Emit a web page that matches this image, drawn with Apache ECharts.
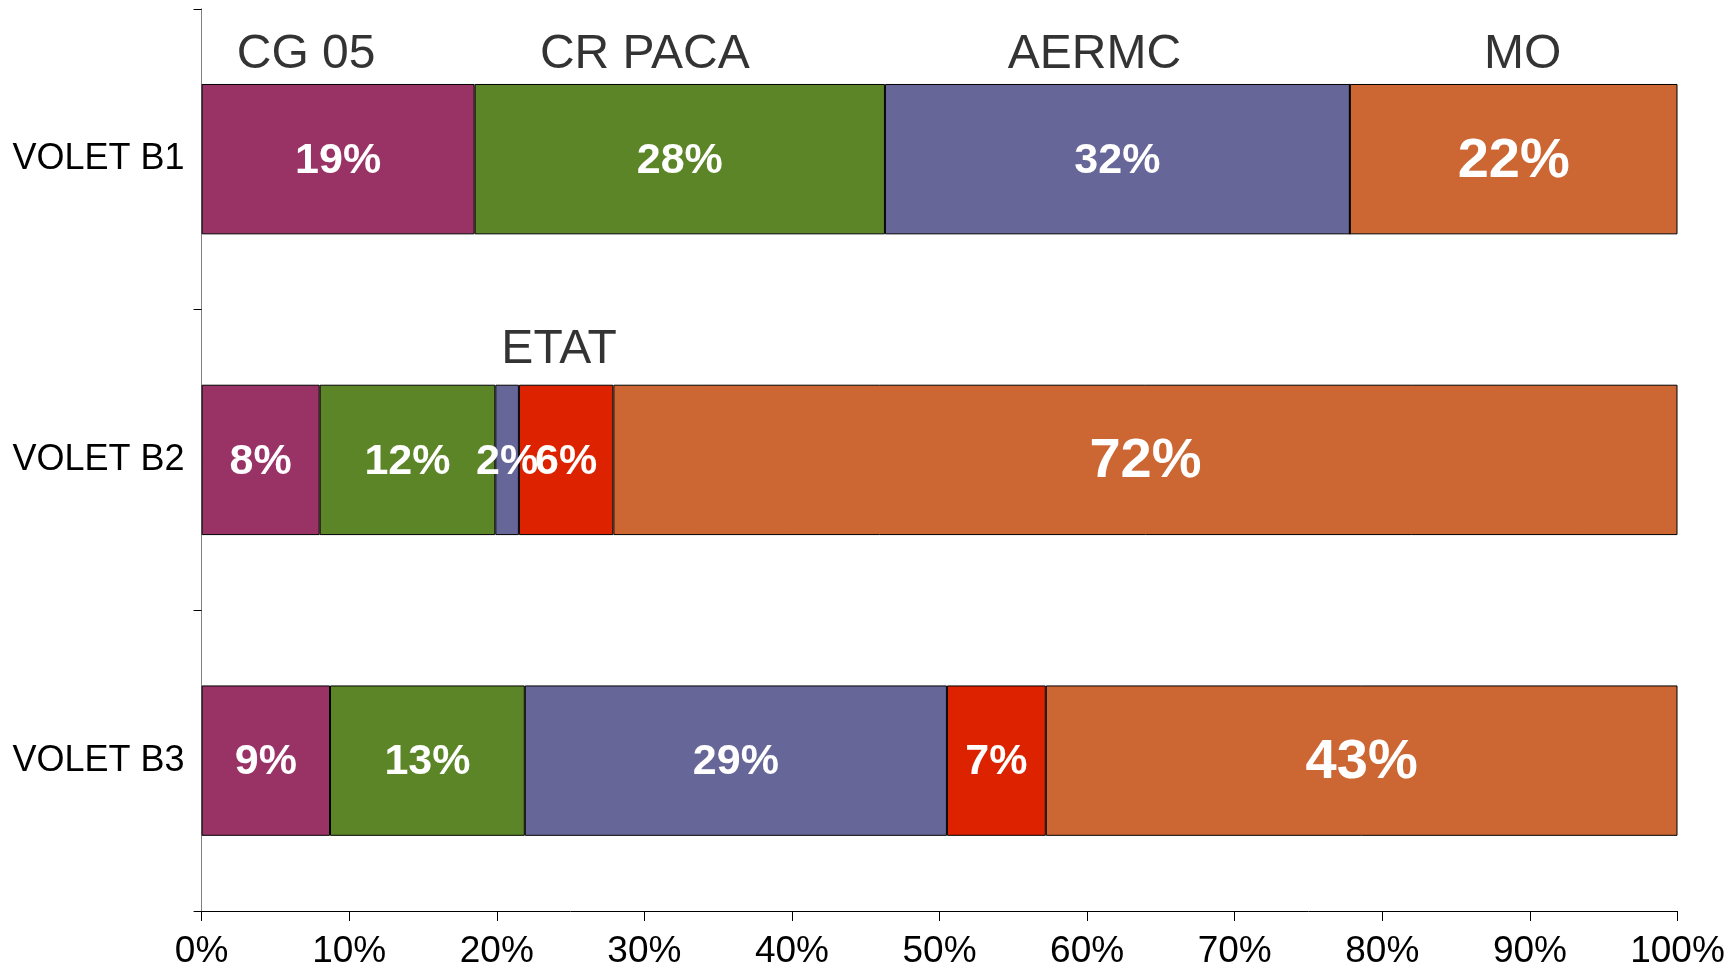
<!DOCTYPE html>
<html lang="fr">
<head>
    <meta charset="UTF-8">
    <title>Répartition des financements</title>
    <script src="https://cdn.jsdelivr.net/npm/echarts@6/dist/echarts.min.js"></script>
    <style>
        html, body { margin: 0; padding: 0; background: #fff; }
        #chart { width: 1727px; height: 967px; }
    </style>
</head>
<body>
    <div id="chart"></div>
    <script type="text/javascript">
        // données (en %)
        var categories = ['VOLET B1', 'VOLET B2', 'VOLET B3'];
        var seriesNames = ['CG 05', 'CR PACA', 'AERMC', 'ETAT', 'MO'];
        var cg05 = [18.5, 8.0, 8.7];
        var crPaca = [27.8, 11.9, 13.2];
        var aermc = [31.5, 1.6, 28.6];
        var etat = [0, 6.4, 6.7];
        var mo = [22.2, 72.1, 42.8];
        // ligne sur laquelle le nom du financeur est écrit
        var nameRow = [0, 0, 0, 1, 0];

        var values = [cg05, crPaca, aermc, etat, mo];
        var colors = ['#993366', '#5b8527', '#666699', '#dd2200', '#cc6633'];
        // petits décalages des étiquettes de noms (style)
        var nameShiftX = [-32, -35, -23, -7, 9];
        var nameShiftY = [-104, -104, -104, -110, -104];
        var font = "'Liberation Sans', Arial, sans-serif";

        var myChart = echarts.init(document.getElementById('chart'));

        var series = values.map(function (arr, i) {
            return {
                name: seriesNames[i],
                type: 'bar',
                stack: 'total',
                barCategoryGap: '50%',
                data: arr,
                itemStyle: {
                    color: colors[i],
                    borderColor: '#000',
                    borderWidth: 1
                },
                label: {
                    show: true,
                    position: 'inside',
                    offset: [0, 2],
                    color: '#fff',
                    fontFamily: font,
                    fontWeight: 'bold',
                    fontSize: i === 4 ? 56 : 43,
                    formatter: function (p) {
                        return p.value > 0 ? Math.round(p.value) + '%' : '';
                    }
                },
                emphasis: { disabled: true }
            };
        });

        // noms des financeurs au-dessus des barres, placés au milieu du segment
        var nameData = seriesNames.map(function (n, i) {
            var row = nameRow[i];
            var start = 0;
            for (var k = 0; k < i; k++) start += values[k][row];
            return {
                value: [start + values[i][row] / 2, categories[row]],
                label: { offset: [nameShiftX[i], nameShiftY[i]] }
            };
        });
        series.push({
            type: 'scatter',
            silent: true,
            symbolSize: 1,
            itemStyle: { color: 'transparent' },
            data: nameData,
            label: {
                show: true,
                position: 'inside',
                color: '#000',
                fontFamily: font,
                fontSize: 48,
                formatter: function (p) {
                    return seriesNames[p.dataIndex];
                }
            },
            z: 10
        });

        myChart.setOption({
            animation: false,
            backgroundColor: '#fff',
            grid: {
                left: 201.6,
                right: 49.5,
                top: 8.8,
                bottom: 56,
                outerBoundsMode: 'none'
            },
            xAxis: {
                type: 'value',
                min: 0,
                max: 100,
                interval: 10,
                axisLine: { show: true, lineStyle: { color: '#000', width: 1 } },
                axisTick: { show: true, length: 10, lineStyle: { color: '#000' } },
                splitLine: { show: false },
                axisLabel: {
                    formatter: '{value}%',
                    color: '#000',
                    fontFamily: font,
                    fontSize: 37,
                    margin: 22
                }
            },
            yAxis: {
                type: 'category',
                inverse: true,
                data: categories,
                axisLine: { show: true, lineStyle: { color: '#808080', width: 1 } },
                axisTick: { show: true, length: 8, lineStyle: { color: '#000' } },
                axisLabel: {
                    color: '#000',
                    fontFamily: font,
                    fontSize: 36,
                    margin: 17
                }
            },
            series: series
        });
    </script>
</body>
</html>
